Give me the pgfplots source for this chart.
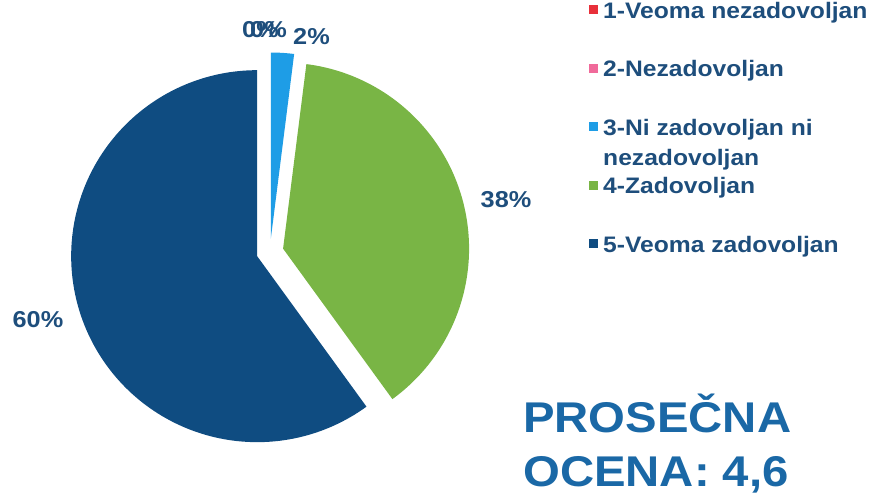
\documentclass[border=0pt]{standalone}
\usepackage{pgfplots}
\pgfplotsset{compat=1.18}
\usepackage{fontspec}
\setmainfont{Liberation Sans}[FakeStretch=1.1]
\definecolor{cDark}{HTML}{0F4C81}
\definecolor{cGreen}{HTML}{79B545}
\definecolor{cLight}{HTML}{1E9DE6}
\definecolor{cRed}{HTML}{E8303A}
\definecolor{cPink}{HTML}{F06A9A}
\definecolor{txt}{HTML}{1E4E7C}
\definecolor{big}{HTML}{1A68A6}

% slice: #1 = cumulative percent at start, #2 = cumulative percent at end, #3 = colour
\newcommand\slice[3]{%
  \pgfmathsetmacro\ta{90-3.6*#2}%
  \pgfmathsetmacro\tb{90-3.6*#1}%
  \pgfmathsetmacro\tm{90-1.8*(#1+#2)}%
  \pgfmathsetmacro\ax{270+13.5*cos(\tm)}%
  \pgfmathsetmacro\ay{243+13.5*sin(\tm)}%
  \edef\temp{\noexpand\addplot[fill=#3, draw=none, domain=\ta:\tb, samples=150, variable=\noexpand\t, forget plot]
    ({\ax+186*cos(\noexpand\t)}, {\ay+186*sin(\noexpand\t)}) -- (axis cs:\ax,\ay) -- cycle;}%
  \temp
}
\newcommand\lstrut{\rule[-8pt]{0pt}{26pt}}

\begin{document}
\begin{tikzpicture}
\begin{axis}[
  hide axis, scale only axis,
  width=873pt, height=495pt,
  xmin=0, xmax=873, ymin=0, ymax=495,
  clip=false,
  legend image code/.code={\fill[#1] (0pt,-4.5pt) rectangle (9pt,4.5pt);},
  legend cell align=left,
  legend style={at={(axis cs:589,495)}, anchor=north west, draw=none, fill=none,
    inner sep=0pt, row sep=39pt, column sep=5pt,
    nodes={inner sep=0pt, text=txt,
      font=\bfseries\fontsize{22.4}{30}\selectfont}},
]
% values: 1 -> 0, 2 -> 0, 3 -> 2, 4 -> 38, 5 -> 60 (percent)
\slice{0}{2}{cLight}
\slice{2}{40}{cGreen}
\slice{40}{100}{cDark}

\addlegendimage{fill=cRed, draw=none}
\addlegendentry{\lstrut 1-Veoma nezadovoljan}
\addlegendimage{fill=cPink, draw=none}
\addlegendentry{\lstrut 2-Nezadovoljan}
\addlegendimage{fill=cLight, draw=none}
\addlegendentry{\raisebox{0pt}[\height][8pt]{\parbox[t]{8cm}{\lstrut 3-Ni zadovoljan ni\\[0pt]nezadovoljan}}}
\addlegendimage{fill=cGreen, draw=none}
\addlegendentry{\lstrut 4-Zadovoljan}
\addlegendimage{fill=cDark, draw=none}
\addlegendentry{\lstrut 5-Veoma zadovoljan}

\begin{scope}[every node/.style={text=txt, font=\bfseries\fontsize{23}{27}\selectfont, inner sep=0pt}]
\node[anchor=west] at (axis cs:242,465) {0\%};
\node[anchor=west] at (axis cs:250,465) {0\%};
\node[anchor=west] at (axis cs:293,458) {2\%};
\node at (axis cs:506,295) {38\%};
\node at (axis cs:38,175) {60\%};
\end{scope}
\node[anchor=base west, inner sep=0pt, text=big, font=\bfseries\fontsize{43}{50}\selectfont] at (axis cs:523,62) {PROSEČNA};
\node[anchor=base west, inner sep=0pt, text=big, font=\bfseries\fontsize{43}{50}\selectfont] at (axis cs:523,8) {OCENA: 4,6};
\end{axis}
\pgfresetboundingbox
\path (current axis.south west) rectangle (current axis.north east);
\end{tikzpicture}
\end{document}
